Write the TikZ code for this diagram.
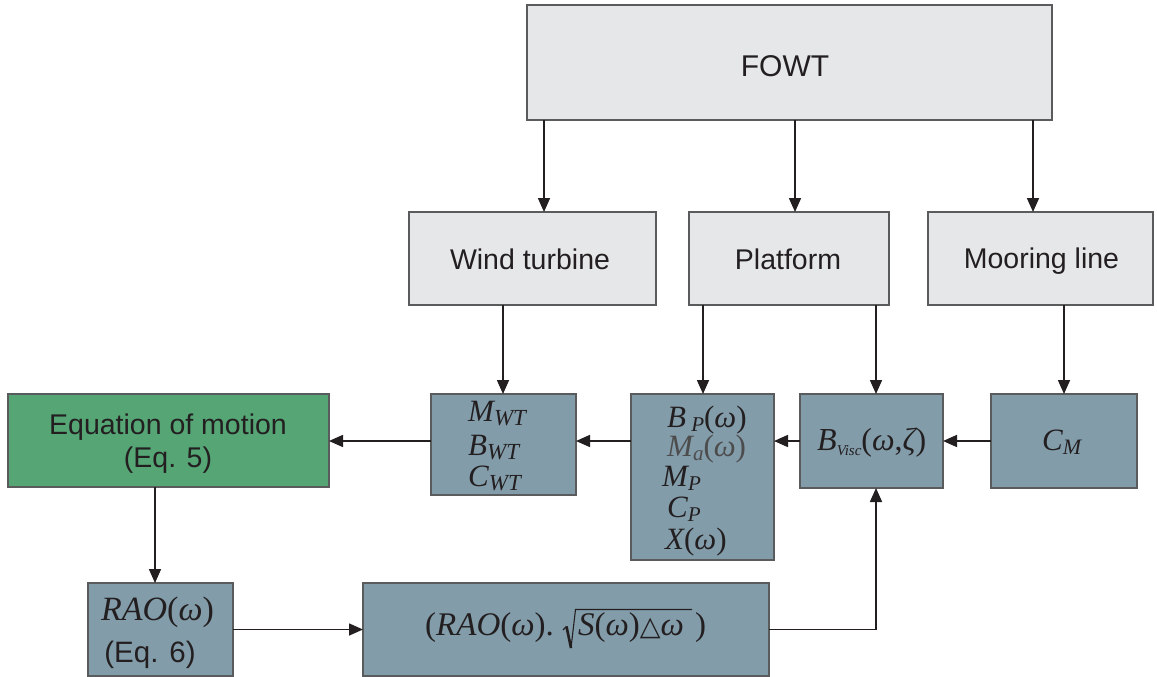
\documentclass[tikz,border=0pt]{standalone}
\usepackage{fontspec}
\setmainfont{Liberation Sans}
\newfontfamily\tnr{Liberation Serif}
\newfontfamily\dvs{DejaVu Sans}
\usetikzlibrary{arrows.meta}
\definecolor{lgray}{HTML}{E6E7E8}
\definecolor{bgray}{HTML}{829CAA}
\definecolor{mgreen}{HTML}{55A575}
\definecolor{edge}{HTML}{5A5B5D}
\definecolor{ink}{HTML}{231F20}
\newcommand{\mi}[1]{{\tnr\itshape #1}}
\newcommand{\mr}[1]{{\tnr #1}}
\newcommand{\ms}[2][21]{\raisebox{-4pt}{\fontsize{#1}{#1}\selectfont\tnr\itshape #2}}
\begin{document}
\begin{tikzpicture}[x=1pt,y=-1pt,
  box/.style={draw=edge,line width=1.2pt,inner sep=0pt,outer sep=0pt},
  gbox/.style={box,fill=lgray},
  pbox/.style={box,fill=bgray},
  arr/.style={line width=1.6pt,draw=ink,-{Triangle[length=14pt,width=12pt]}},
  lbl/.style={font=\fontsize{28.5}{33}\selectfont,text=ink,align=center,inner sep=0pt},
  mth/.style={font=\fontsize{31}{32}\selectfont,text=ink,inner sep=0pt,anchor=base west}]
\useasboundingbox (0,0) rectangle (1157,677);
% boxes
\node[gbox,minimum width=525pt,minimum height=115pt] (fowt) at (789.5,62.5) {};
\node[gbox,minimum width=247pt,minimum height=93pt] (wt) at (532.5,258.5) {};
\node[gbox,minimum width=200pt,minimum height=93pt] (pf) at (789,258.5) {};
\node[gbox,minimum width=225pt,minimum height=93pt] (ml) at (1040.5,258.5) {};
\node[pbox,minimum width=145pt,minimum height=101pt] (mwt) at (503.5,444.5) {};
\node[pbox,minimum width=143pt,minimum height=166pt] (par) at (702.5,477) {};
\node[pbox,minimum width=143pt,minimum height=94pt] (bv) at (871.5,441) {};
\node[pbox,minimum width=146pt,minimum height=94pt] (cm) at (1064,441) {};
\node[box,fill=mgreen,minimum width=321pt,minimum height=93pt] (eq) at (168.5,440.5) {};
\node[pbox,minimum width=145pt,minimum height=93pt] (rao) at (160.5,629.5) {};
\node[pbox,minimum width=406pt,minimum height=93pt] (big) at (566,629.5) {};

% texts
\node[lbl,font=\fontsize{30}{32}\selectfont] (tfowt) at (785,66) {FOWT};
\node[lbl] (twt) at (530,259) {Wind turbine};
\node[lbl] (tpf) at (788,259) {Platform};
\node[lbl] (tml) at (1041.5,261) {Mooring line};
\node[lbl,anchor=base] (teq1) at (168,434) {Equation of motion};
\node[lbl,anchor=base] (teq2) at (168,467) {(Eq. 5)};
\node[mth,anchor=base,font=\fontsize{34}{34}\selectfont] (trao1) at (157.5,620) {\mi{RAO}\mr{(}\mi{ω}\mr{)}};
\node[lbl,anchor=base,font=\fontsize{29.5}{32}\selectfont] (trao2) at (150,662) {(Eq. 6)};

\node[mth] (m1) at (468,421.5) {\mi{M}\ms[23]{WT}};
\node[mth] (m2) at (468,455) {\mi{B}\ms[23]{WT}};
\node[mth] (m3) at (468,486) {\mi{C}\ms[23]{WT}};

\node[mth] (p1) at (667,427) {\mi{B}\,\ms{P}\mr{(}\mi{ω}\mr{)}};
\node[mth,text=black!70] (p2) at (667,456) {\mi{M}\ms{a}\mr{(}\mi{ω}\mr{)}};
\node[mth] (p3) at (662,486) {\mi{M}\ms{P}};
\node[mth] (p4) at (667,517) {\mi{C}\ms{P}};
\node[mth] (p5) at (665,549) {\mi{X}\mr{(}\mi{ω}\mr{)}};

\node[mth,font=\fontsize{32}{32}\selectfont] (tbv) at (817,450) {\mi{B}\raisebox{-5pt}{\fontsize{15}{15}\selectfont\tnr\itshape Visc}\mr{(}\mi{ω}\mr{,}\mi{ζ}\mr{)}};
\node[mth] (tcm) at (1042,450) {\mi{C}\ms[22]{M}};

\node[mth,font=\fontsize{33}{33}\selectfont] (b1) at (425,635) {\mr{(}\mi{RAO}\mr{(}\mi{ω}\mr{).}};
\node[mth,font=\fontsize{33}{33}\selectfont] (b2) at (578,635) {\mi{S}\mr{(}\mi{ω}\mr{)}{\dvs\fontsize{27}{27}\selectfont △}\mi{ω}};
\node[mth,font=\fontsize{33}{33}\selectfont] (b3) at (695,635) {\mr{)}};
\draw[ink,line width=1.1pt,line join=miter] (563,630) -- (566.5,626.5);
\draw[ink,line width=2.6pt] (566.5,626.5) -- (571,648);
\draw[ink,line width=1.1pt] (571,648) -- (575.5,609.5) -- (692,609.5);

% arrows
\coordinate (x1) at (544,0);
\coordinate (x2) at (795,0);
\coordinate (x3) at (1033,0);
\coordinate (x4) at (503,0);
\coordinate (x5) at (703,0);
\coordinate (x6) at (876,0);
\coordinate (x7) at (1064,0);
\coordinate (x8) at (155,0);
\draw[arr] (fowt.south -| x1) -- (wt.north -| x1);
\draw[arr] (fowt.south -| x2) -- (pf.north -| x2);
\draw[arr] (fowt.south -| x3) -- (ml.north -| x3);
\draw[arr] (wt.south -| x4) -- (mwt.north -| x4);
\draw[arr] (pf.south -| x5) -- (par.north -| x5);
\draw[arr] (pf.south -| x6) -- (bv.north -| x6);
\draw[arr] (ml.south -| x7) -- (cm.north -| x7);
\draw[arr] (cm.west) -- (bv.east);
\draw[arr] (bv.west) -- (par.east |- bv.west);
\draw[arr] (par.west |- bv.west) -- (mwt.east |- bv.west);
\draw[arr] (mwt.west |- bv.west) -- (eq.east |- bv.west);
\draw[arr] (eq.south -| x8) -- (rao.north -| x8);
\draw[arr] (rao.east) -- (big.west);
\draw[arr] (big.east) -- (big.east -| x6) -- (bv.south -| x6);
\end{tikzpicture}
\end{document}
